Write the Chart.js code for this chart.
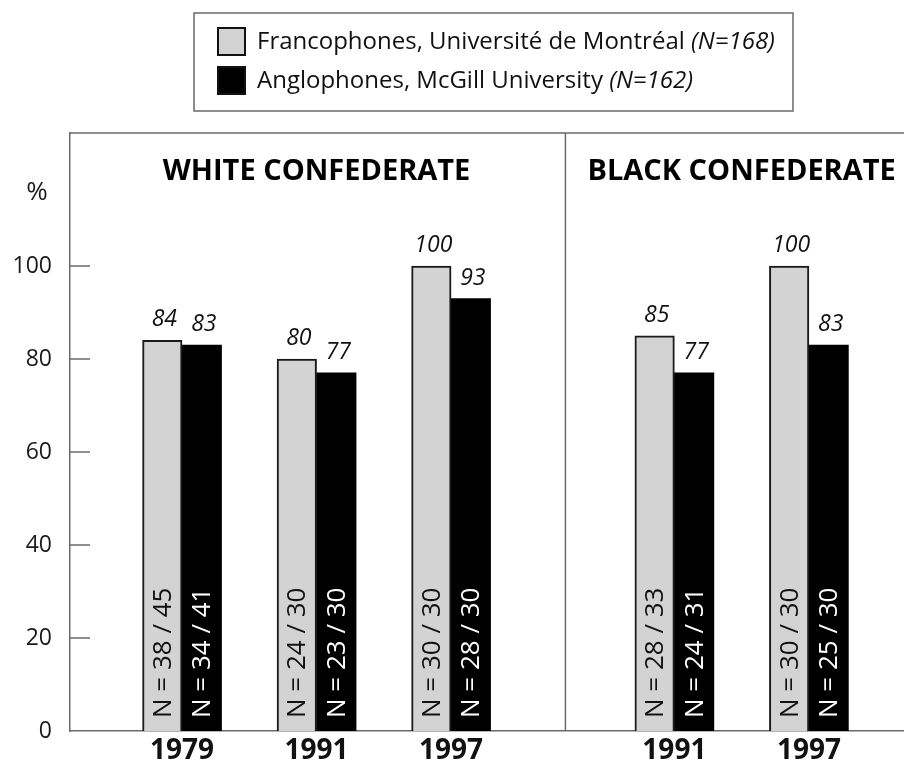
<!DOCTYPE html>
<html>
<head>
<meta charset="utf-8">
<script src="https://cdn.jsdelivr.net/npm/chart.js@4/dist/chart.umd.min.js"></script>
<style>
  html, body { margin: 0; padding: 0; background: #fff; overflow: hidden; }
  #wrap { width: 904px; height: 767px; }
</style>
</head>
<body>
<div id="wrap"><canvas id="myChart"></canvas></div>
<script>
// data
const panelTitles = ["WHITE CONFEDERATE", "BLACK CONFEDERATE"];
const panelOf = [0, 0, 0, 1, 1];
const years = ["1979", "1991", "1997", "1991", "1997"];
const francoValues = [84, 80, 100, 85, 100];
const angloValues = [83, 77, 93, 77, 83];
const francoN = ["38 / 45", "24 / 30", "30 / 30", "28 / 33", "30 / 30"];
const angloN = ["34 / 41", "23 / 30", "28 / 30", "24 / 31", "25 / 30"];
const legendLabels = ["Francophones, Université de Montréal", "Anglophones, McGill University"];
const legendN = ["(N=168)", "(N=162)"];
const yTicks = [0, 20, 40, 60, 80, 100];

// layout: where each panel's groups start on the x axis
const panelStart = [0, 3.66];
const dividerX = 2.85;
const counts = [0, 0];
const groupX = panelOf.map((p) => panelStart[p] + counts[p]++);

const FONT = "'Open Sans', 'Noto Sans', sans-serif";
const GREY = "#d3d3d3";
const LINE = "#6a6a6a";

const decor = {
  id: "decor",
  afterDraw(chart) {
    const { ctx, chartArea: a, scales: { x, y } } = chart;
    ctx.save();

    // frame top, panel divider, inside tick marks
    ctx.strokeStyle = LINE;
    ctx.lineWidth = 1.5;
    ctx.beginPath();
    ctx.moveTo(a.left, a.top);
    ctx.lineTo(a.right, a.top);
    const dx = x.getPixelForValue(dividerX);
    ctx.moveTo(dx, a.top);
    ctx.lineTo(dx, a.bottom);
    yTicks.forEach((v) => {
      if (v === 0) return;
      const py = y.getPixelForValue(v);
      ctx.moveTo(a.left, py);
      ctx.lineTo(a.left + 20, py);
    });
    ctx.stroke();

    // "%" label
    ctx.fillStyle = "#1a1a1a";
    ctx.font = "26px " + FONT;
    ctx.textAlign = "center";
    ctx.textBaseline = "middle";
    ctx.fillText("%", 37, 193);

    // panel titles
    ctx.font = "bold 29px " + FONT;
    ctx.fillStyle = "#000";
    panelTitles.forEach((t, p) => {
      const xs = groupX.filter((_, i) => panelOf[i] === p);
      const cx = x.getPixelForValue(xs.reduce((s, v) => s + v, 0) / xs.length);
      ctx.fillText(t, cx, 172);
    });

    // value labels and N labels
    const nLabels = [francoN, angloN];
    chart.data.datasets.forEach((ds, di) => {
      chart.getDatasetMeta(di).data.forEach((bar, i) => {
        ctx.fillStyle = "#111";
        ctx.font = "italic 23px " + FONT;
        ctx.textAlign = "center";
        ctx.textBaseline = "alphabetic";
        ctx.fillText(String(ds.data[i].y), bar.x + 2, bar.y - 14);

        ctx.save();
        ctx.translate(bar.x, a.bottom - 13);
        ctx.rotate(-Math.PI / 2);
        ctx.fillStyle = di === 0 ? "#111" : "#fff";
        ctx.font = "26px " + FONT;
        ctx.textAlign = "left";
        ctx.textBaseline = "middle";
        ctx.fillText("N = " + nLabels[di][i], 0, 1);
        ctx.restore();
      });
    });

    // legend box
    ctx.strokeStyle = LINE;
    ctx.lineWidth = 1.5;
    ctx.strokeRect(194, 13, 599, 98);
    const swatch = [GREY, "#000"];
    legendLabels.forEach((lab, k) => {
      const top = 28 + k * 39;
      ctx.fillStyle = swatch[k];
      ctx.fillRect(218, top, 27, 27);
      ctx.strokeStyle = "#111";
      ctx.lineWidth = 2;
      ctx.strokeRect(218, top, 27, 27);
      ctx.fillStyle = "#111";
      ctx.textAlign = "left";
      ctx.textBaseline = "middle";
      ctx.font = "24px " + FONT;
      ctx.fillText(lab, 257, top + 14);
      const w = ctx.measureText(lab + " ").width;
      ctx.font = "italic 24px " + FONT;
      ctx.fillText(legendN[k], 257 + w, top + 14);
    });

    ctx.restore();
  },
};

new Chart("myChart", {
  type: "bar",
  data: {
    datasets: [
      {
        label: legendLabels[0],
        data: groupX.map((v, i) => ({ x: v, y: francoValues[i] })),
        backgroundColor: GREY,
        borderColor: "#1a1a1a",
        borderWidth: 2,
        borderSkipped: "bottom",
      },
      {
        label: legendLabels[1],
        data: groupX.map((v, i) => ({ x: v, y: angloValues[i] })),
        backgroundColor: "#000",
        borderWidth: 0,
      },
    ],
  },
  options: {
    responsive: true,
    maintainAspectRatio: false,
    animation: false,
    layout: { padding: { top: 133, left: 0, right: 0, bottom: 0 } },
    datasets: { bar: { barThickness: 39.5, grouped: true } },
    scales: {
      x: {
        type: "linear",
        offset: false,
        min: -0.833,
        max: 5.367,
        afterBuildTicks: (s) => {
          s.ticks = groupX.map((v) => ({ value: v }));
        },
        afterFit: (s) => {
          s.height = 36;
        },
        grid: { display: false, drawTicks: false },
        border: { display: true, color: LINE, width: 1.5 },
        ticks: {
          autoSkip: false,
          maxRotation: 0,
          padding: 3,
          color: "#111",
          font: { family: FONT, size: 28, weight: "bold" },
          callback: (v, i) => years[i],
        },
      },
      y: {
        min: 0,
        max: 128.6,
        afterBuildTicks: (s) => {
          s.ticks = yTicks.map((v) => ({ value: v }));
        },
        afterFit: (s) => {
          s.width = 70;
        },
        grid: { display: false, drawTicks: false },
        border: { display: true, color: LINE, width: 1.5 },
        ticks: {
          padding: 18,
          color: "#1a1a1a",
          font: { family: FONT, size: 23 },
        },
      },
    },
    plugins: {
      legend: { display: false },
      tooltip: { enabled: false },
    },
  },
  plugins: [decor],
});
</script>
</body>
</html>
